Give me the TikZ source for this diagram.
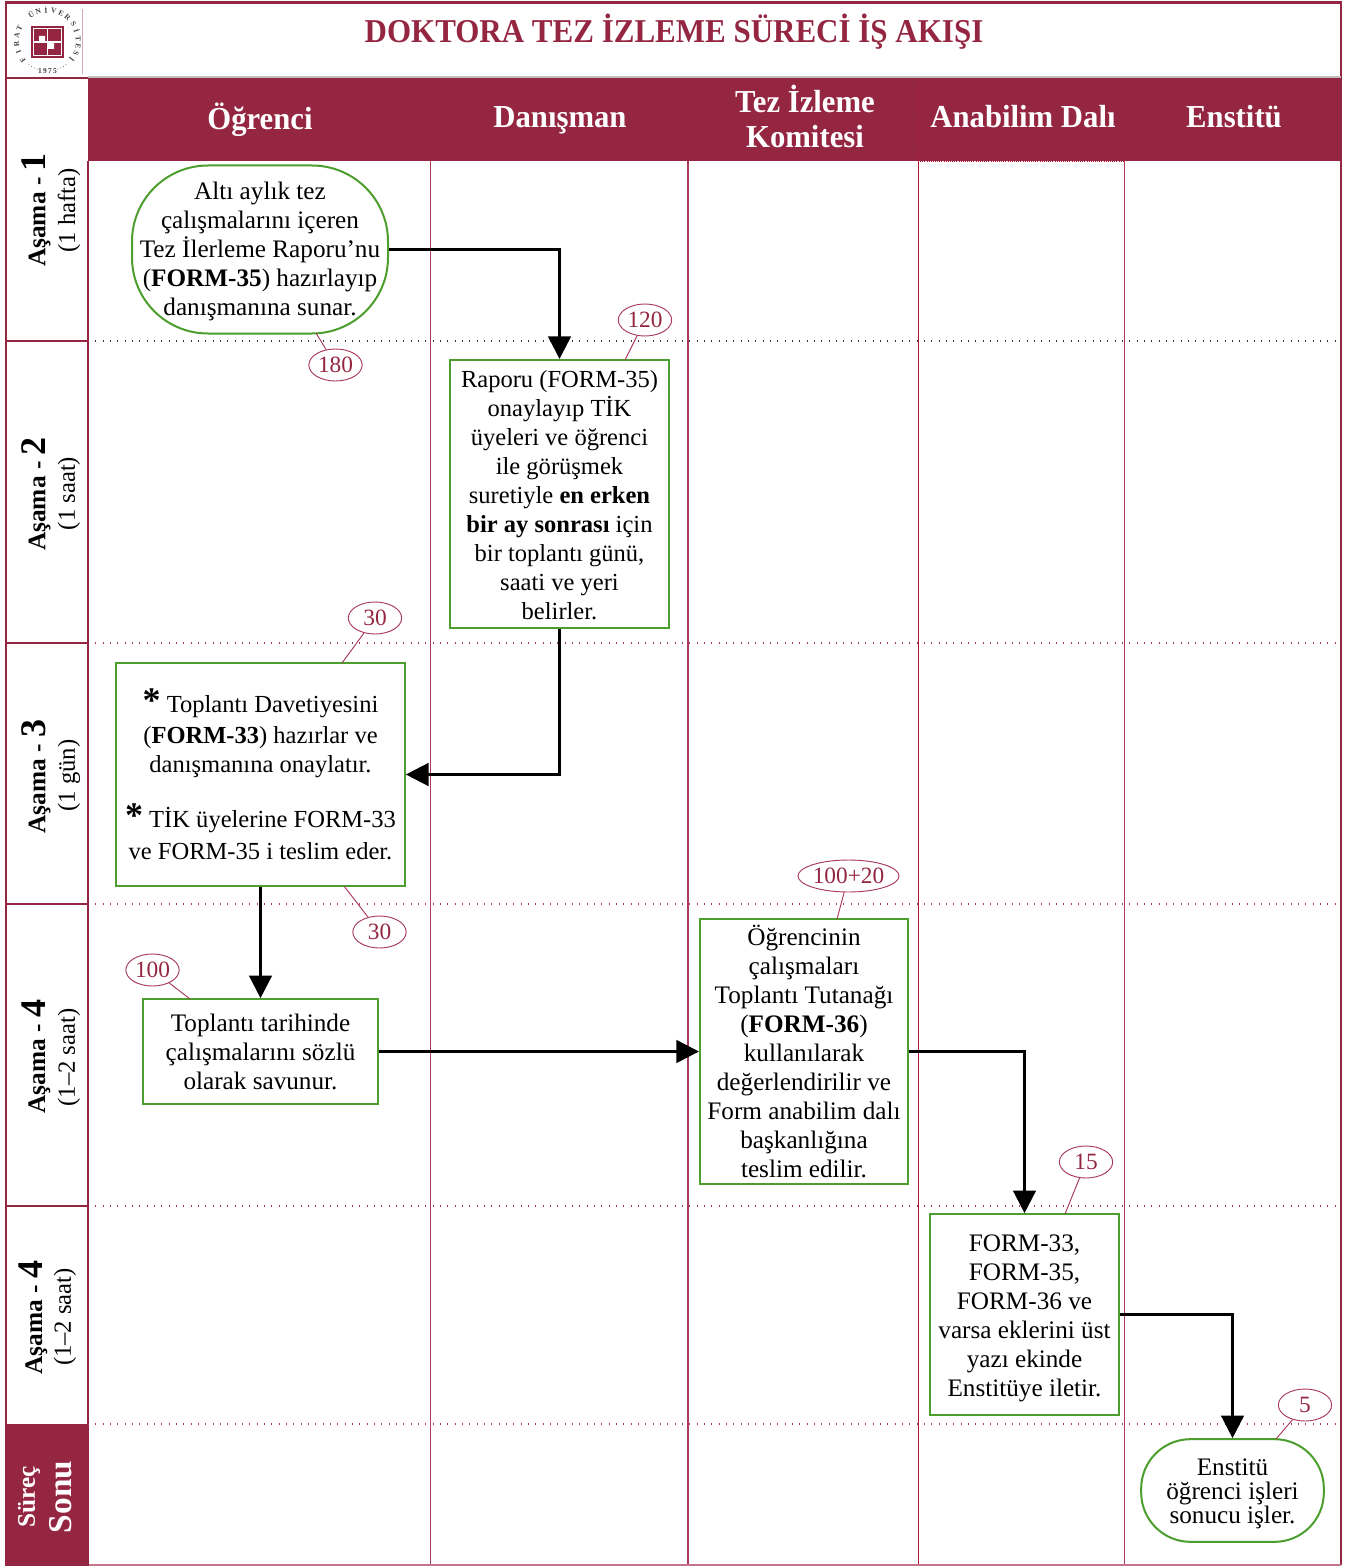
\documentclass[tikz,border=0pt]{standalone}
\usepackage{fontspec}
\usetikzlibrary{arrows.meta,shapes.geometric}
\setmainfont{Liberation Serif}
\newfontfamily\hdrfont[FakeStretch=0.96]{Liberation Serif}
\newfontfamily\titlefont[FakeStretch=0.93]{Liberation Serif}
\definecolor{bord}{HTML}{952642}
\definecolor{pinkl}{HTML}{A83A5A}
\definecolor{redl}{HTML}{B01038}
\definecolor{greenl}{HTML}{4C9E2E}
\tikzset{
  body/.style={align=center,inner sep=0pt,text=black,font=\fontsize{18.9}{21.75}\selectfont},
  procbox/.style={body,draw=greenl,line width=1.5pt,fill=white,rectangle},
  flow/.style={draw=black,line width=1.9pt,-{Triangle[width=17pt,length=17pt]}},
  callout/.style={ellipse,draw=pinkl,line width=.7pt,fill=white,inner sep=0pt,text=bord,font=\fontsize{17.5}{17.5}\selectfont,minimum height=24pt},
  calline/.style={draw=pinkl,line width=.7pt},
  hdr/.style={align=center,inner sep=0pt,text=white,font=\hdrfont\bfseries\fontsize{24}{27}\selectfont},
  stage/.style={rotate=90,inner sep=0pt,font=\bfseries\fontsize{19}{19}\selectfont},
  stagetime/.style={rotate=90,inner sep=0pt,font=\fontsize{18.5}{18.5}\selectfont},
  colline/.style={draw=pinkl,line width=.7pt},
  rowdot/.style={draw=pinkl,line width=.8pt,dash pattern=on .8pt off 4.7pt},
  rowdotk/.style={draw=black!80,line width=.8pt,dash pattern=on .8pt off 4.7pt},
  frameline/.style={draw=bord,line width=1.6pt},
  logolet/.style={inner sep=0pt,text=black!75,font=\bfseries\fontsize{5.6}{5.6}\selectfont}
}
\newcommand{\bignum}[1]{{\fontsize{27}{18}\selectfont #1}}
\newcommand{\astr}{{\fontsize{27}{18}\selectfont\bfseries *}}
\newcommand{\toppad}[1]{\rule{0pt}{#1pt}}
\begin{document}
\begin{tikzpicture}[x=.75pt,y=-.75pt]
\useasboundingbox (0,0) rectangle (1352,1566);
\fill[white] (0,0) rectangle (1352,1566);
% header band and end cell
\fill[bord] (88,77) rectangle (1341,161);
\fill[bord] (5,1424) rectangle (89,1566);
% column lines
\draw[colline] (430,161) -- (430,1565);
\draw[colline,line width=1.1pt] (688,161) -- (688,1565);
\draw[colline,draw=redl] (918,161) -- (918,1565);
\draw[colline] (1124,161) -- (1124,1565);
\draw[draw=redl,line width=.6pt,densely dotted] (918,161) -- (918,77) -- (1124,77) (918,161) -- (1124,161);
% row lines
\draw[rowdotk] (88,341) -- (1341,341);
\draw[rowdot] (88,643) -- (1341,643);
\draw[rowdot] (88,904) -- (1341,904);
\draw[rowdot] (88,1206) -- (1341,1206);
\draw[rowdot] (88,1424) -- (1341,1424);
% frame
\draw[frameline,line width=2pt] (6,77) -- (6,2.5) -- (1341,2.5) -- (1341,1565);
\draw[draw=black!25,line width=.8pt] (88,77) -- (1341,77);
\draw[frameline] (6,77) -- (6,1424);
\draw[frameline] (6,78) -- (88,78);
\draw[frameline] (88,161) -- (88,1424);
\draw[frameline] (6,341) -- (88,341) (6,643) -- (88,643) (6,904) -- (88,904) (6,1206) -- (88,1206);
\draw[draw=pinkl!70,line width=.9pt] (89,1565) -- (1341,1565);
% logo
\draw[draw=bord!40,line width=.5pt] (82,9) -- (82,74);
\fill[bord] (31,26) rectangle (64,58);
\draw[draw=white,line width=.6pt] (33.5,28.5) rectangle (61.5,55.5);
\draw[draw=white,line width=.8pt] (47.5,28.5) -- (47.5,55.5) (33.5,42) -- (61.5,42);
\fill[white] (39,36) rectangle (45,42) (48,43) rectangle (54,49);
\foreach \l/\a [count=\i] in {F/217,I/201.5,R/186,A/170.5,T/155,Ü/122,N/107.5,İ/93,V/78.5,E/64,R/49.5,S/33,İ/19,T/5,E/-9.5,S/-23.5,İ/-37.5}{
  \node[logolet,rotate=\a-90] (logo\i) at ({47.5+31*cos(\a)},{41-31*sin(\a)}) {\l};
}
\node[logolet] (logoyear) at (47.5,71.5) {1\,9\,7\,5};
\foreach \a in {232,238,244,250,290,296,302,308}{
  \fill[black!60] ({47.5+30*cos(\a)},{41-30*sin(\a)}) circle (.5);
}
% title
\node[inner sep=0pt,text=bord,font=\titlefont\bfseries\fontsize{25}{25}\selectfont] (title) at (674,32) {DOKTORA TEZ İZLEME SÜRECİ İŞ AKIŞI};
% column heads
\node[hdr] (h1) at (260,119.5) {Öğrenci};
\node[hdr] (h2) at (560,120) {Danışman};
\node[hdr,font=\hdrfont\bfseries\fontsize{24}{26.25}\selectfont] (h3) at (805,116.5) {Tez İzleme\\Komitesi};
\node[hdr] (h4) at (1023,117) {Anabilim Dalı};
\node[hdr] (h5) at (1234,117) {Enstitü};
% stage labels
\node[stage] (s1) at (36,210) {Aşama - \bignum{1}};
\node[stagetime] (t1) at (69,210.5) {(1 hafta)};
\node[stage] (s2) at (36,494) {Aşama - \bignum{2}};
\node[stagetime] (t2) at (69,493.5) {(1 saat)};
\node[stage] (s3) at (36,776.5) {Aşama - \bignum{3}};
\node[stagetime] (t3) at (69,775.5) {(1 gün)};
\node[stage] (s4) at (36,1056.5) {Aşama - \bignum{4}};
\node[stagetime] (t4) at (69,1057.5) {(1–2 saat)};
\node[stage] (s5) at (33,1317.5) {Aşama - \bignum{4}};
\node[stagetime] (t5) at (65,1317) {(1–2 saat)};
\node[rotate=90,inner sep=0pt,text=white,font=\bfseries\fontsize{19}{19}\selectfont] (e1) at (29,1497) {Süreç};
\node[rotate=90,inner sep=0pt,text=white,font=\bfseries\fontsize{25}{25}\selectfont] (e2) at (61,1497) {Sonu};
% process nodes
\node[procbox,rounded corners=57pt,minimum width=192pt,minimum height=126pt] (ogr) at (260,249.5)
 {\toppad{16}Altı aylık tez\\çalışmalarını içeren\\Tez İlerleme Raporu’nu\\(\textbf{FORM-35}) hazırlayıp\\danışmanına sunar.};
\node[procbox,minimum width=164pt,minimum height=201pt,font=\fontsize{18.4}{21.75}\selectfont] (dan) at (559.5,494)
 {\toppad{14.5}Raporu (FORM-35)\\onaylayıp TİK\\üyeleri ve öğrenci\\ile görüşmek\\suretiyle \textbf{en erken}\\\textbf{bir ay sonrası} için\\bir toplantı günü,\\saati ve yeri\\belirler.};
\node[procbox,minimum width=216.5pt,minimum height=167pt,font=\fontsize{18.4}{21.75}\selectfont] (tik) at (260.5,774.5)
 {\toppad{16}\astr\ Toplantı Davetiyesini\\[1.5pt](\textbf{FORM-33}) hazırlar ve\\danışmanına onaylatır.\\[18.5pt]\astr\ TİK üyelerine FORM-33\\[2pt]ve FORM-35 i teslim eder.};
\node[procbox,minimum width=176pt,minimum height=78.5pt] (sav) at (260.5,1051.5)
 {\toppad{13}Toplantı tarihinde\\çalışmalarını sözlü\\olarak savunur.};
\node[procbox,minimum width=156pt,minimum height=198.5pt] (tut) at (804,1051.5)
 {Öğrencinin\\çalışmaları\\Toplantı Tutanağı\\(\textbf{FORM-36})\\kullanılarak\\değerlendirilir ve\\Form anabilim dalı\\başkanlığına\\teslim edilir.};
\node[procbox,minimum width=141.5pt,minimum height=150.5pt] (abd) at (1024.5,1314.5)
 {\toppad{19}FORM-33,\\FORM-35,\\FORM-36 ve\\varsa eklerini üst\\yazı ekinde\\Enstitüye iletir.};
\node[procbox,rounded corners=37pt,minimum width=137pt,minimum height=77pt,font=\fontsize{18.9}{18}\selectfont] (ens) at (1232.5,1490.5)
 {\toppad{17}Enstitü\\öğrenci işleri\\sonucu işler.};
% flows
\draw[flow] (ogr.east) -| (dan.north);
\draw[flow] (dan.south) |- (tik.east);
\draw[flow] (tik.south) -- (sav.north);
\draw[flow] (sav.east) -- (tut.west);
\draw[flow] (tut.east) -| (abd.north);
\draw[flow] (abd.east) -| (ens.north);
% time callouts
\node[callout,minimum width=40pt] (c1) at (335.5,365) {180};
\coordinate (a1) at (316,333);
\draw[calline] (a1) -- (c1);
\node[callout,minimum width=40pt] (c2) at (645,320) {120};
\coordinate (a2) at (625,360);
\draw[calline] (a2) -- (c2);
\node[callout,minimum width=40pt] (c3) at (375,618) {30};
\coordinate (a3) at (342,663);
\draw[calline] (a3) -- (c3);
\node[callout,minimum width=40pt] (c4) at (379.5,932) {30};
\coordinate (a4) at (344,886);
\draw[calline] (a4) -- (c4);
\node[callout,minimum width=40pt] (c5) at (152.5,970) {100};
\coordinate (a5) at (190,999);
\draw[calline] (a5) -- (c5);
\node[callout,minimum width=71pt] (c6) at (848.5,876) {100+20};
\coordinate (a6) at (837,919);
\draw[calline] (a6) -- (c6);
\node[callout,minimum width=40pt] (c7) at (1086,1162) {15};
\coordinate (a7) at (1065,1214);
\draw[calline] (a7) -- (c7);
\node[callout,minimum width=40pt] (c8) at (1305,1405) {5};
\coordinate (a8) at (1276,1439);
\draw[calline] (a8) -- (c8);
\end{tikzpicture}
\end{document}
